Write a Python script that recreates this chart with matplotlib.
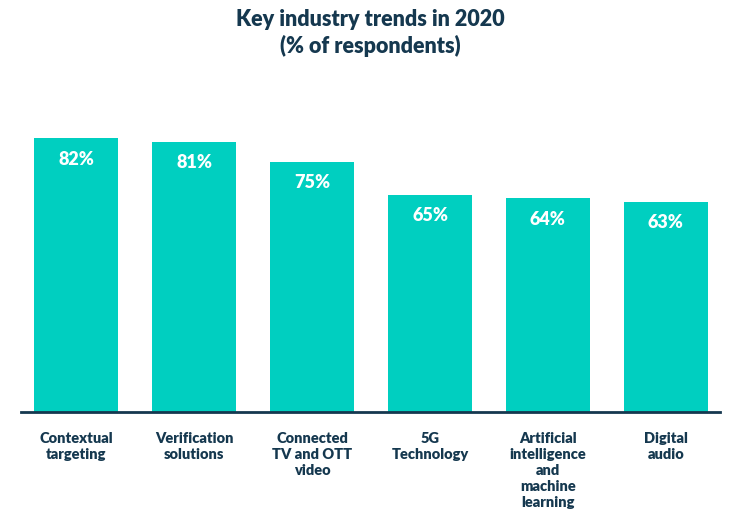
import matplotlib.pyplot as plt

categories = ['Contextual\ntargeting', 'Verification\nsolutions', 'Connected\nTV and OTT\nvideo',
              '5G\nTechnology', 'Artificial\nintelligence\nand\nmachine\nlearning', 'Digital\naudio']
values = [82, 81, 75, 65, 64, 63]

navy = '#15384f'
teal = '#00cfc0'

fig = plt.figure(figsize=(7.5, 5.21), dpi=100)
ax = fig.add_axes([0.028, 0.209, 0.932, 0.545])

x = list(range(len(values)))
bars = ax.bar(x, values, width=0.712, color=teal)

for xi, v in zip(x, values):
    ax.annotate(f'{v}%', xy=(xi, v), xytext=(0, -9), textcoords='offset points',
                ha='center', va='top', color='white', fontsize=13,
                fontweight='heavy', family='Lato')

ax.set_xlim(-0.47, 5.46)
ax.set_ylim(0, 85)
ax.set_xticks(x)
ax.set_xticklabels(categories, fontsize=10.5, fontweight='heavy', color=navy,
                   family='Lato', linespacing=1.28, va='top')
ax.tick_params(axis='x', length=0, pad=14)
ax.set_yticks([])
for s in ['top', 'right', 'left']:
    ax.spines[s].set_visible(False)
ax.spines['bottom'].set_color(navy)
ax.spines['bottom'].set_linewidth(2)

fig.text(0.494, 0.982, 'Key industry trends in 2020\n(% of respondents)', ha='center', va='top',
         fontsize=15.5, fontweight='heavy', color=navy, family='Lato', linespacing=1.25)

fig.savefig('out.png', dpi=100)
